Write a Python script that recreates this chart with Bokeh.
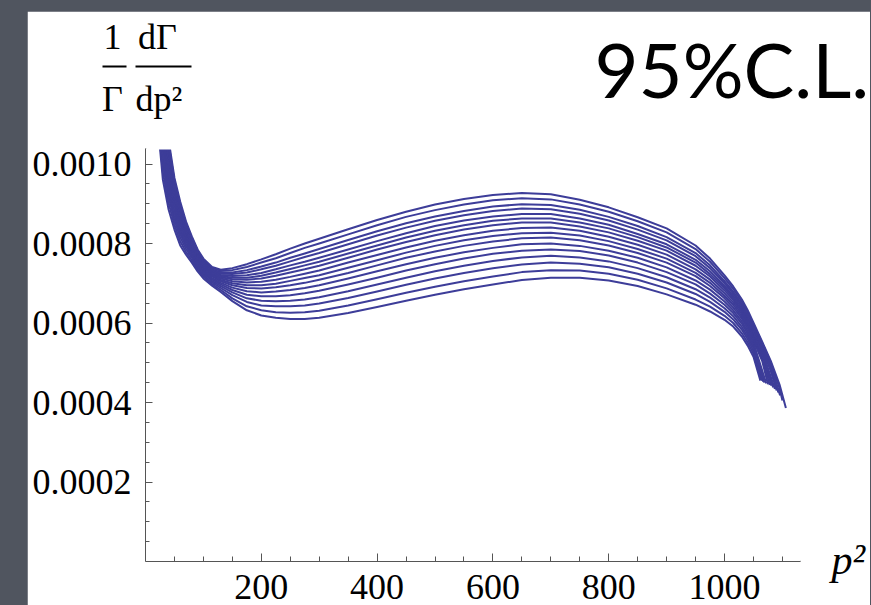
from bokeh.plotting import figure
from bokeh.models import FixedTicker, PrintfTickFormatter, Label, Range1d
from bokeh.layouts import column
from bokeh.embed import file_html
from bokeh.resources import INLINE

# ---------------- data, rates in units of 1e-6 ----------------
RATE_UNIT = 1e-6
p2_grid = [20, 30, 40, 50, 60, 70, 80, 90, 100, 115, 130, 150, 175, 200, 225, 250, 275, 300,
           350, 400, 450, 500, 550, 600, 650, 700, 750, 800, 850, 900, 950, 975, 1000, 1015,
           1030, 1040, 1050]

rate_c00 = [1120, 960, 885, 835, 795, 772, 752, 730, 712, 694, 678, 655, 632, 619,
            613, 610, 610, 613, 625, 640, 656, 671, 685, 697, 708, 714, 714, 707, 693, 672, 646, 629, 608, 591, 566, 543, 515]
rate_c01 = [1136, 979, 901, 847, 805, 779, 758, 735, 717, 698, 683, 662, 642, 632,
            627, 626, 627, 631, 644, 660, 676, 691, 705, 717, 728, 733, 732, 724, 709, 687, 659, 641, 618, 600, 574, 551, 523]
rate_c02 = [1152, 998, 917, 858, 815, 787, 764, 740, 721, 702, 688, 670, 653, 644,
            642, 642, 644, 649, 663, 679, 696, 712, 726, 738, 747, 752, 749, 740, 724, 702, 673, 653, 628, 609, 583, 559, 530]
rate_c03 = [1167, 1015, 931, 869, 824, 794, 769, 744, 725, 706, 693, 677, 662, 656,
            655, 656, 659, 665, 680, 697, 714, 730, 744, 756, 765, 769, 765, 755, 738, 715, 685, 664, 637, 617, 590, 566, 537]
rate_c04 = [1181, 1031, 945, 879, 832, 800, 774, 749, 729, 710, 697, 683, 671, 667,
            667, 670, 675, 681, 697, 714, 732, 748, 762, 774, 782, 785, 781, 770, 752, 728, 697, 674, 646, 625, 598, 573, 544]
rate_c05 = [1194, 1046, 957, 888, 840, 806, 779, 753, 733, 713, 701, 689, 680, 677,
            679, 683, 688, 695, 712, 730, 748, 764, 778, 789, 798, 800, 794, 782, 764, 740, 707, 684, 654, 632, 604, 579, 550]
rate_c06 = [1206, 1061, 969, 897, 848, 812, 784, 756, 736, 717, 705, 695, 688, 687,
            690, 695, 701, 709, 726, 745, 764, 780, 794, 805, 813, 815, 808, 795, 776, 752, 718, 693, 662, 639, 611, 586, 556]
rate_c07 = [1217, 1073, 980, 905, 854, 817, 788, 760, 739, 719, 708, 700, 695, 695,
            699, 706, 713, 720, 739, 758, 777, 794, 808, 819, 826, 827, 820, 806, 786, 762, 726, 701, 668, 646, 616, 591, 561]
rate_c08 = [1228, 1086, 990, 913, 861, 822, 792, 763, 742, 722, 712, 705, 702, 704,
            709, 716, 724, 732, 752, 771, 790, 807, 821, 832, 839, 840, 832, 817, 797, 772, 735, 709, 675, 652, 622, 596, 567]
rate_c09 = [1239, 1099, 1001, 921, 868, 827, 796, 766, 745, 725, 715, 710, 709, 712,
            719, 727, 735, 744, 764, 785, 804, 821, 835, 846, 853, 853, 843, 828, 807, 782, 744, 717, 682, 658, 627, 602, 572]
rate_c10 = [1248, 1109, 1009, 927, 873, 831, 799, 769, 748, 727, 718, 714, 714, 719,
            727, 736, 745, 754, 775, 795, 815, 832, 846, 857, 863, 863, 853, 838, 816, 790, 752, 723, 688, 663, 632, 606, 576]
rate_c11 = [1257, 1120, 1018, 934, 879, 835, 802, 772, 750, 730, 721, 718, 720, 726,
            735, 745, 754, 764, 785, 806, 826, 844, 858, 868, 874, 874, 863, 847, 824, 798, 759, 730, 693, 668, 637, 611, 580]
rate_c12 = [1268, 1132, 1029, 942, 885, 840, 806, 775, 753, 733, 724, 723, 727, 735,
            744, 755, 766, 776, 798, 820, 840, 857, 871, 882, 888, 886, 875, 858, 835, 808, 768, 738, 700, 674, 642, 616, 586]
rate_c13 = [1277, 1143, 1037, 948, 891, 844, 809, 778, 756, 735, 727, 727, 733, 742,
            752, 764, 775, 786, 809, 831, 851, 868, 882, 893, 899, 897, 885, 867, 844, 816, 776, 745, 705, 679, 647, 620, 590]
rate_c14 = [1289, 1157, 1050, 957, 898, 850, 814, 782, 759, 738, 731, 733, 741, 752,
            763, 776, 789, 800, 823, 846, 867, 884, 898, 909, 914, 911, 898, 880, 856, 828, 786, 754, 713, 686, 653, 627, 596]
rate_c15 = [1300, 1170, 1060, 965, 905, 855, 818, 785, 762, 741, 734, 738, 748, 760,
            773, 787, 800, 812, 836, 859, 880, 898, 912, 922, 927, 924, 910, 891, 866, 838, 795, 762, 720, 692, 659, 632, 601]

# end of each curve (kinematic end point): extra p^2 points and rates
tail_p2 = [[1062], [1063], [1065], [1067], [1069], [1072],
           [1065, 1075], [1065, 1078], [1065, 1081], [1065, 1084], [1065, 1087],
           [1065, 1080, 1090], [1065, 1080, 1093], [1065, 1080, 1096],
           [1065, 1080, 1095, 1100], [1065, 1080, 1095, 1106]]
tail_rate = [[455], [458], [455], [452], [450], [448],
             [505, 446], [512, 444], [519, 442], [525, 438], [530, 434],
             [535, 478, 430], [541, 487, 425], [546, 494, 418],
             [550, 500, 436, 405], [553, 504, 445, 386]]

curves = [rate_c00, rate_c01, rate_c02, rate_c03, rate_c04, rate_c05, rate_c06, rate_c07,
          rate_c08, rate_c09, rate_c10, rate_c11, rate_c12, rate_c13, rate_c14, rate_c15]

x_major = [200, 400, 600, 800, 1000]
x_minor = [50, 100, 150, 250, 300, 350, 450, 500, 550, 650, 700, 750, 850, 900, 950, 1050, 1100]
y_major = [0.0002, 0.0004, 0.0006, 0.0008, 0.0010]
y_minor = [0.00005, 0.0001, 0.00015, 0.00025, 0.0003, 0.00035, 0.00045, 0.0005, 0.00055,
           0.00065, 0.0007, 0.00075, 0.00085, 0.0009, 0.00095]

# ---------------- layout ----------------
FX0, FXS = 145.25, 0.5788      # page x of p2 = 0, pixels per unit
FY0, FYS = 561.0, 397500.0     # page y of rate = 0, pixels per unit


def dx(px):
    return (px - FX0) / FXS


def dy(py):
    return (FY0 - py) / FYS


LINE = "#3d3d99"
AXIS = "#555555"
SERIF = "Liberation Serif"

p = figure(width=843, height=594, output_backend="svg", toolbar_location=None,
           x_range=Range1d(0, dx(800)), y_range=Range1d(0, dy(148)),
           min_border_left=118, min_border_right=70, min_border_top=137, min_border_bottom=44)
p.outline_line_color = None
p.background_fill_color = "white"
p.border_fill_color = "white"
p.xgrid.visible = False
p.ygrid.visible = False

for rates, tp, tr in zip(curves, tail_p2, tail_rate):
    xs = p2_grid + tp
    ys = [v * RATE_UNIT for v in rates + tr]
    p.line(xs, ys, line_color=LINE, line_width=2, line_join="round")

for ax in (p.xaxis[0], p.yaxis[0]):
    ax.axis_line_color = AXIS
    ax.major_tick_line_color = AXIS
    ax.minor_tick_line_color = AXIS
    ax.major_tick_out = 0
    ax.minor_tick_out = 0
    ax.major_label_text_font = SERIF
    ax.major_label_text_font_size = "36px"
    ax.major_label_text_color = "black"

p.xaxis[0].ticker = FixedTicker(ticks=x_major, minor_ticks=x_minor)
p.xaxis[0].major_tick_in = 8
p.xaxis[0].minor_tick_in = 5
p.xaxis[0].major_label_standoff = 13

p.yaxis[0].ticker = FixedTicker(ticks=y_major, minor_ticks=y_minor)
p.yaxis[0].formatter = PrintfTickFormatter(format="%.4f")
p.yaxis[0].major_tick_in = 7
p.yaxis[0].minor_tick_in = 4
p.yaxis[0].major_label_standoff = 14

p.margin = (11, 1, 0, 27)

# ---------------- transparent overlay for the texts outside the plot frame ----------------
# its data space is the page in pixels (y downwards)
q = figure(width=871, height=605, output_backend="svg", toolbar_location=None,
           x_range=Range1d(0, 871), y_range=Range1d(605, 0), min_border=0,
           x_axis_type=None, y_axis_type=None,
           styles={"position": "absolute", "left": "0px", "top": "0px"})
q.background_fill_color = None
q.border_fill_color = None
q.outline_line_color = None
q.grid.visible = False
for fig in (p, q):
    if hasattr(fig, "frame_align"):
        fig.frame_align = False

# hide the light frame edges of the main plot (top and right)
q.segment(x0=[146, 800], y0=[148, 148], x1=[801, 800], y1=[148, 560],
          line_color="white", line_width=2)


def page_label(text, px, py, size, font=SERIF, align="left", style="normal"):
    return Label(x=px, y=py, text=text, text_font=font, text_font_size=size,
                 text_font_style=style, text_color="black", text_align=align,
                 text_baseline="alphabetic")


# y-axis label as a fraction: 1/Γ dΓ/dp²
q.add_layout(page_label("1", 112, 36, "36px", align="center"))
q.add_layout(page_label("dΓ", 157, 36, "36px", align="center"))
q.add_layout(page_label("Γ", 112, 98, "36px", align="center"))
q.add_layout(page_label("dp²", 135, 98, "36px"))
q.segment(x0=[102, 135], y0=[66, 66], x1=[126, 191], y1=[66, 66],
          line_color="black", line_width=2)

# x-axis label
q.add_layout(page_label("p²", 831, 559, "42px", style="italic"))

# confidence-level note
q.add_layout(page_label("95%C.L.", 594, 68, "76px", font="Lato"))

page = column(p, q, styles={"background-color": "#50555f"})

open("out.html", "w").write(file_html(page, INLINE))
